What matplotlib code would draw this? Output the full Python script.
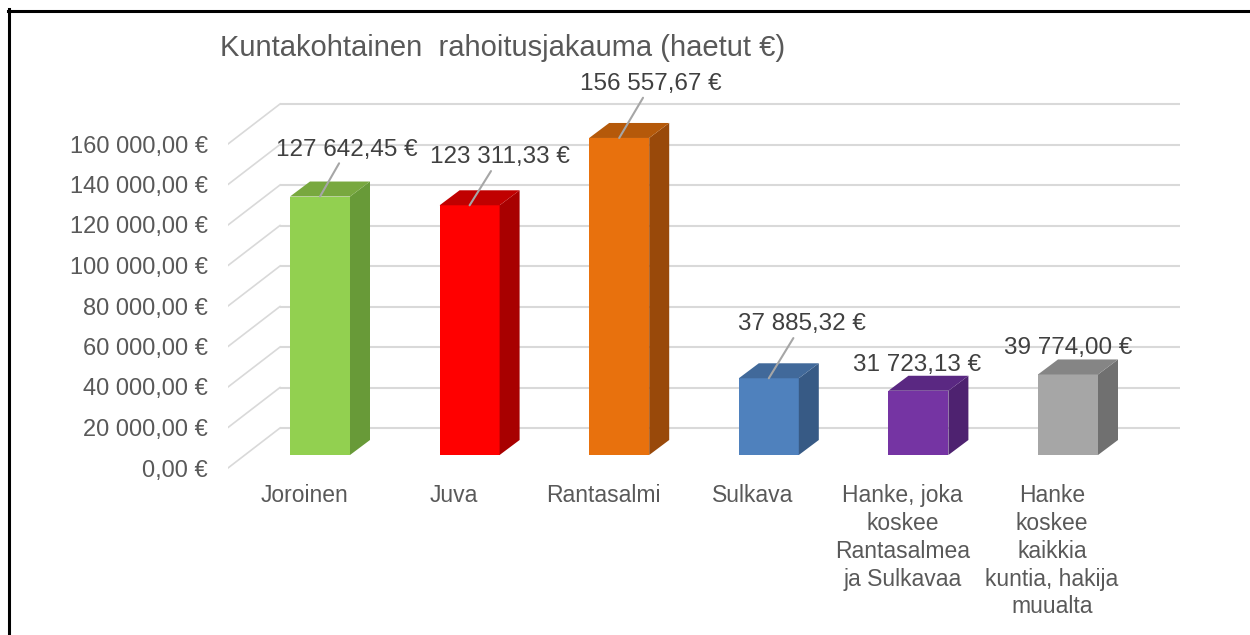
import matplotlib
matplotlib.use("Agg")
import matplotlib.pyplot as plt
from matplotlib.patches import Polygon
from matplotlib.lines import Line2D
from matplotlib.transforms import offset_copy

plt.rcParams['font.family'] = ['Liberation Sans', 'DejaVu Sans']

# data
kunnat = ["Joroinen", "Juva", "Rantasalmi", "Sulkava",
          "Hanke, joka\nkoskee\nRantasalmea\nja Sulkavaa",
          "Hanke\nkoskee\nkaikkia\nkuntia, hakija\nmuualta"]
haetut = [127642.45, 123311.33, 156557.67, 37885.32, 31723.13, 39774.00]
y_ticks = [0, 20000, 40000, 60000, 80000, 100000, 120000, 140000, 160000]

# colours: front / side / top face
c_front = ["#92D050", "#FF0000", "#E8710D", "#4F81BD", "#7534A3", "#A6A6A6"]
c_side = ["#689A38", "#A80000", "#99490A", "#375A85", "#4E2270", "#707070"]
c_top = ["#78A83F", "#C00000", "#B5590A", "#41699A", "#5A2882", "#858585"]

# label offsets in pixels (right, up) from bar top, leader line or not
lab_dx = [27, 30, 32, 33, -1, 0]
lab_dy = [47, 48, 54, 54, 26, 26]
leader = [True, True, True, True, False, False]


def euro(v):
    s = f"{v:,.2f}".replace(",", " ").replace(".", ",")
    return s + " €"


W, H = 1250, 635
fig = plt.figure(figsize=(W / 100, H / 100), dpi=100)

# pixel layout of the pseudo-3D chart
step = 149.6          # px between bars
k = 40.5 / 20000      # px per euro
ax_l, ax_r, ax_t, ax_b = 228, 1180, 60, 475
x0_px, y0_px = 320, 455
ax = fig.add_axes([ax_l / W, 1 - ax_b / H, (ax_r - ax_l) / W, (ax_b - ax_t) / H])
xmin, xmax = (ax_l - x0_px) / step, (ax_r - x0_px) / step
ax.set_xlim(xmin, xmax)
ax.set_ylim((y0_px - ax_b) / k, (y0_px - ax_t) / k)
for s in ax.spines.values():
    s.set_visible(False)

back_dy = 27 / k      # back wall offset
front_dy = -13 / k    # tick label plane offset
x_back = (280 - x0_px) / step
grid_c = "#D9D9D9"
for g in y_ticks:
    ax.plot([x_back, xmax], [g + back_dy] * 2, color=grid_c, lw=1.5, zorder=0,
            solid_capstyle='butt')
    ax.plot([xmin, x_back], [g + front_dy, g + back_dy], color=grid_c, lw=1.2, zorder=0)

ax.set_yticks([g + front_dy for g in y_ticks],
              [euro(g) for g in y_ticks])
ax.set_xticks([])
ax.tick_params(axis='y', length=0, pad=14.4, labelsize=17, labelcolor="#595959")

# bars
w = 60 / step
ddx, ddy = 20 / step, 15 / k
for i, v in enumerate(haetut):
    ax.bar(i, v, width=w, color=c_front[i], zorder=3)
    xl, xr = i - w / 2, i + w / 2
    ax.add_patch(Polygon([(xr, 0), (xr + ddx, ddy), (xr + ddx, v + ddy), (xr, v)],
                         closed=True, facecolor=c_side[i], edgecolor='none', zorder=3))
    ax.add_patch(Polygon([(xl, v), (xl + ddx, v + ddy), (xr + ddx, v + ddy), (xr, v)],
                         closed=True, facecolor=c_top[i], edgecolor='none', zorder=3))
    ap = dict(arrowstyle='-', color="#A6A6A6", lw=1.5, shrinkA=0, shrinkB=0) if leader[i] else None
    ax.annotate(euro(v), xy=(i, v), xytext=(lab_dx[i] * 0.72, lab_dy[i] * 0.72),
                textcoords='offset points', ha='center', va='center',
                fontsize=17.5, color="#404040", arrowprops=ap, zorder=5)
    ax.text(i, 0, kunnat[i], transform=offset_copy(ax.transData, fig=fig, x=-16, y=-29, units='dots'),
            ha='center', va='top', multialignment='center', linespacing=1.27,
            fontsize=16.5, color="#595959")

fig.text(503 / W, 1 - 48 / H, "Kuntakohtainen  rahoitusjakauma (haetut €)",
         ha='center', va='center', fontsize=21, color="#595959")

# outer frame (left and top edges visible)
fig.add_artist(Line2D([9 / W, 9 / W], [0, 1 - 9 / H], transform=fig.transFigure, color='black', lw=2.2))
fig.add_artist(Line2D([8 / W, 1], [1 - 10.5 / H] * 2, transform=fig.transFigure, color='black', lw=2.2))

fig.savefig("out.png", dpi=100, facecolor='white')
